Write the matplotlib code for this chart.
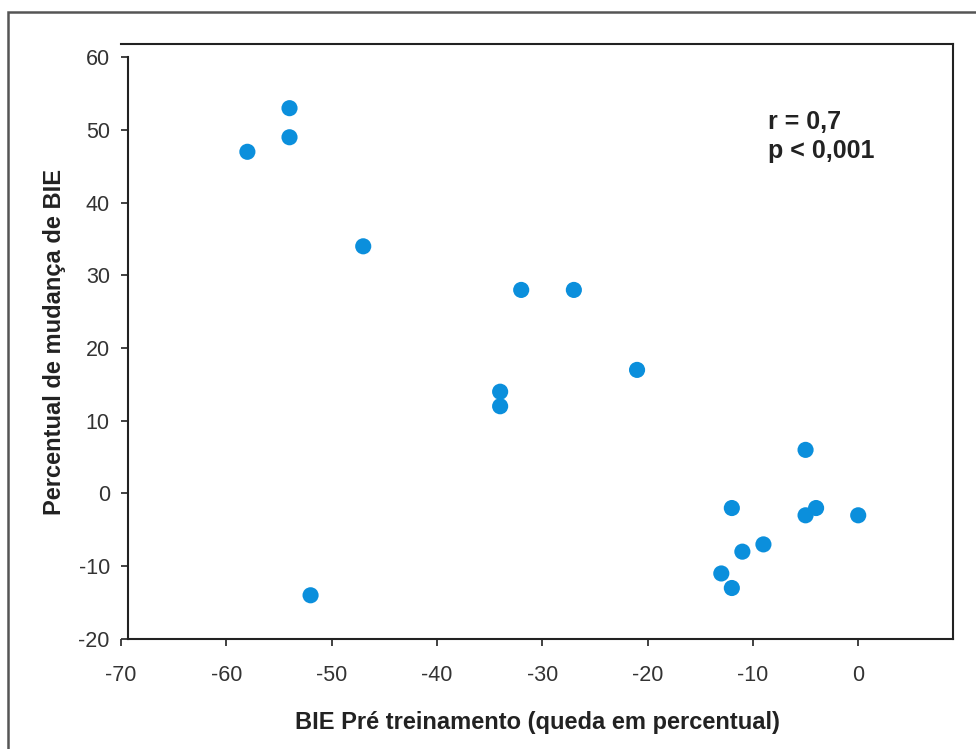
import matplotlib
matplotlib.use("Agg")
import matplotlib.pyplot as plt
from matplotlib.patches import Rectangle

# data
bie_pre = [-58, -54, -54, -47, -32, -27, -21, -34, -34, -52,
           -5, -12, -4, -5, 0, -9, -11, -13, -12]
bie_change = [47, 53, 49, 34, 28, 28, 17, 14, 12, -14,
              6, -2, -2, -3, -3, -7, -8, -11, -13]
x_ticks = [-70, -60, -50, -40, -30, -20, -10, 0]
y_ticks = [-20, -10, 0, 10, 20, 30, 40, 50, 60]

plt.rcParams["font.family"] = ["Liberation Sans", "DejaVu Sans"]
plt.rcParams["axes.unicode_minus"] = False

fig = plt.figure(figsize=(9.76, 7.49), dpi=100)
ax = fig.add_axes([121 / 976, 0.147, 832 / 976, 0.794])

# outer frame of the figure
fig.patches.append(Rectangle((8 / 976, -0.1), 1.2, 1.1 - 12 / 749,
                             transform=fig.transFigure, fill=False,
                             edgecolor="#555555", linewidth=1.8))

ax.scatter(bie_pre, bie_change, s=135, color="#0b8fdc", edgecolors="none", zorder=3)

ax.set_xlim(-70, 9)
ax.set_ylim(-20, 61.8)
ax.set_xticks(x_ticks)
ax.set_yticks(y_ticks)
ax.spines["left"].set_bounds(-20, 60)
ax.spines["left"].set_position(("data", -69.35))
ax.spines["bottom"].set_bounds(-69.35, 9)
for s in ax.spines.values():
    s.set_color("#222222")
    s.set_linewidth(1.5)
ax.tick_params(axis="both", direction="out", length=5, width=1.3,
               colors="#333333", labelsize=15.5, labelcolor="#333333")
ax.tick_params(axis="x", pad=14)
ax.tick_params(axis="y", pad=8)

ax.set_xlabel("BIE Pré treinamento (queda em percentual)", fontsize=17,
              fontweight="bold", color="#222222", labelpad=18)
ax.set_ylabel("Percentual de mudança de BIE", fontsize=17,
              fontweight="bold", color="#222222", labelpad=9)

ax.text(0.778, 0.89, "r = 0,7\np < 0,001", transform=ax.transAxes,
        fontsize=18, fontweight="bold", color="#222222", va="top", ha="left",
        linespacing=1.3)

fig.savefig("out.png", dpi=100)
